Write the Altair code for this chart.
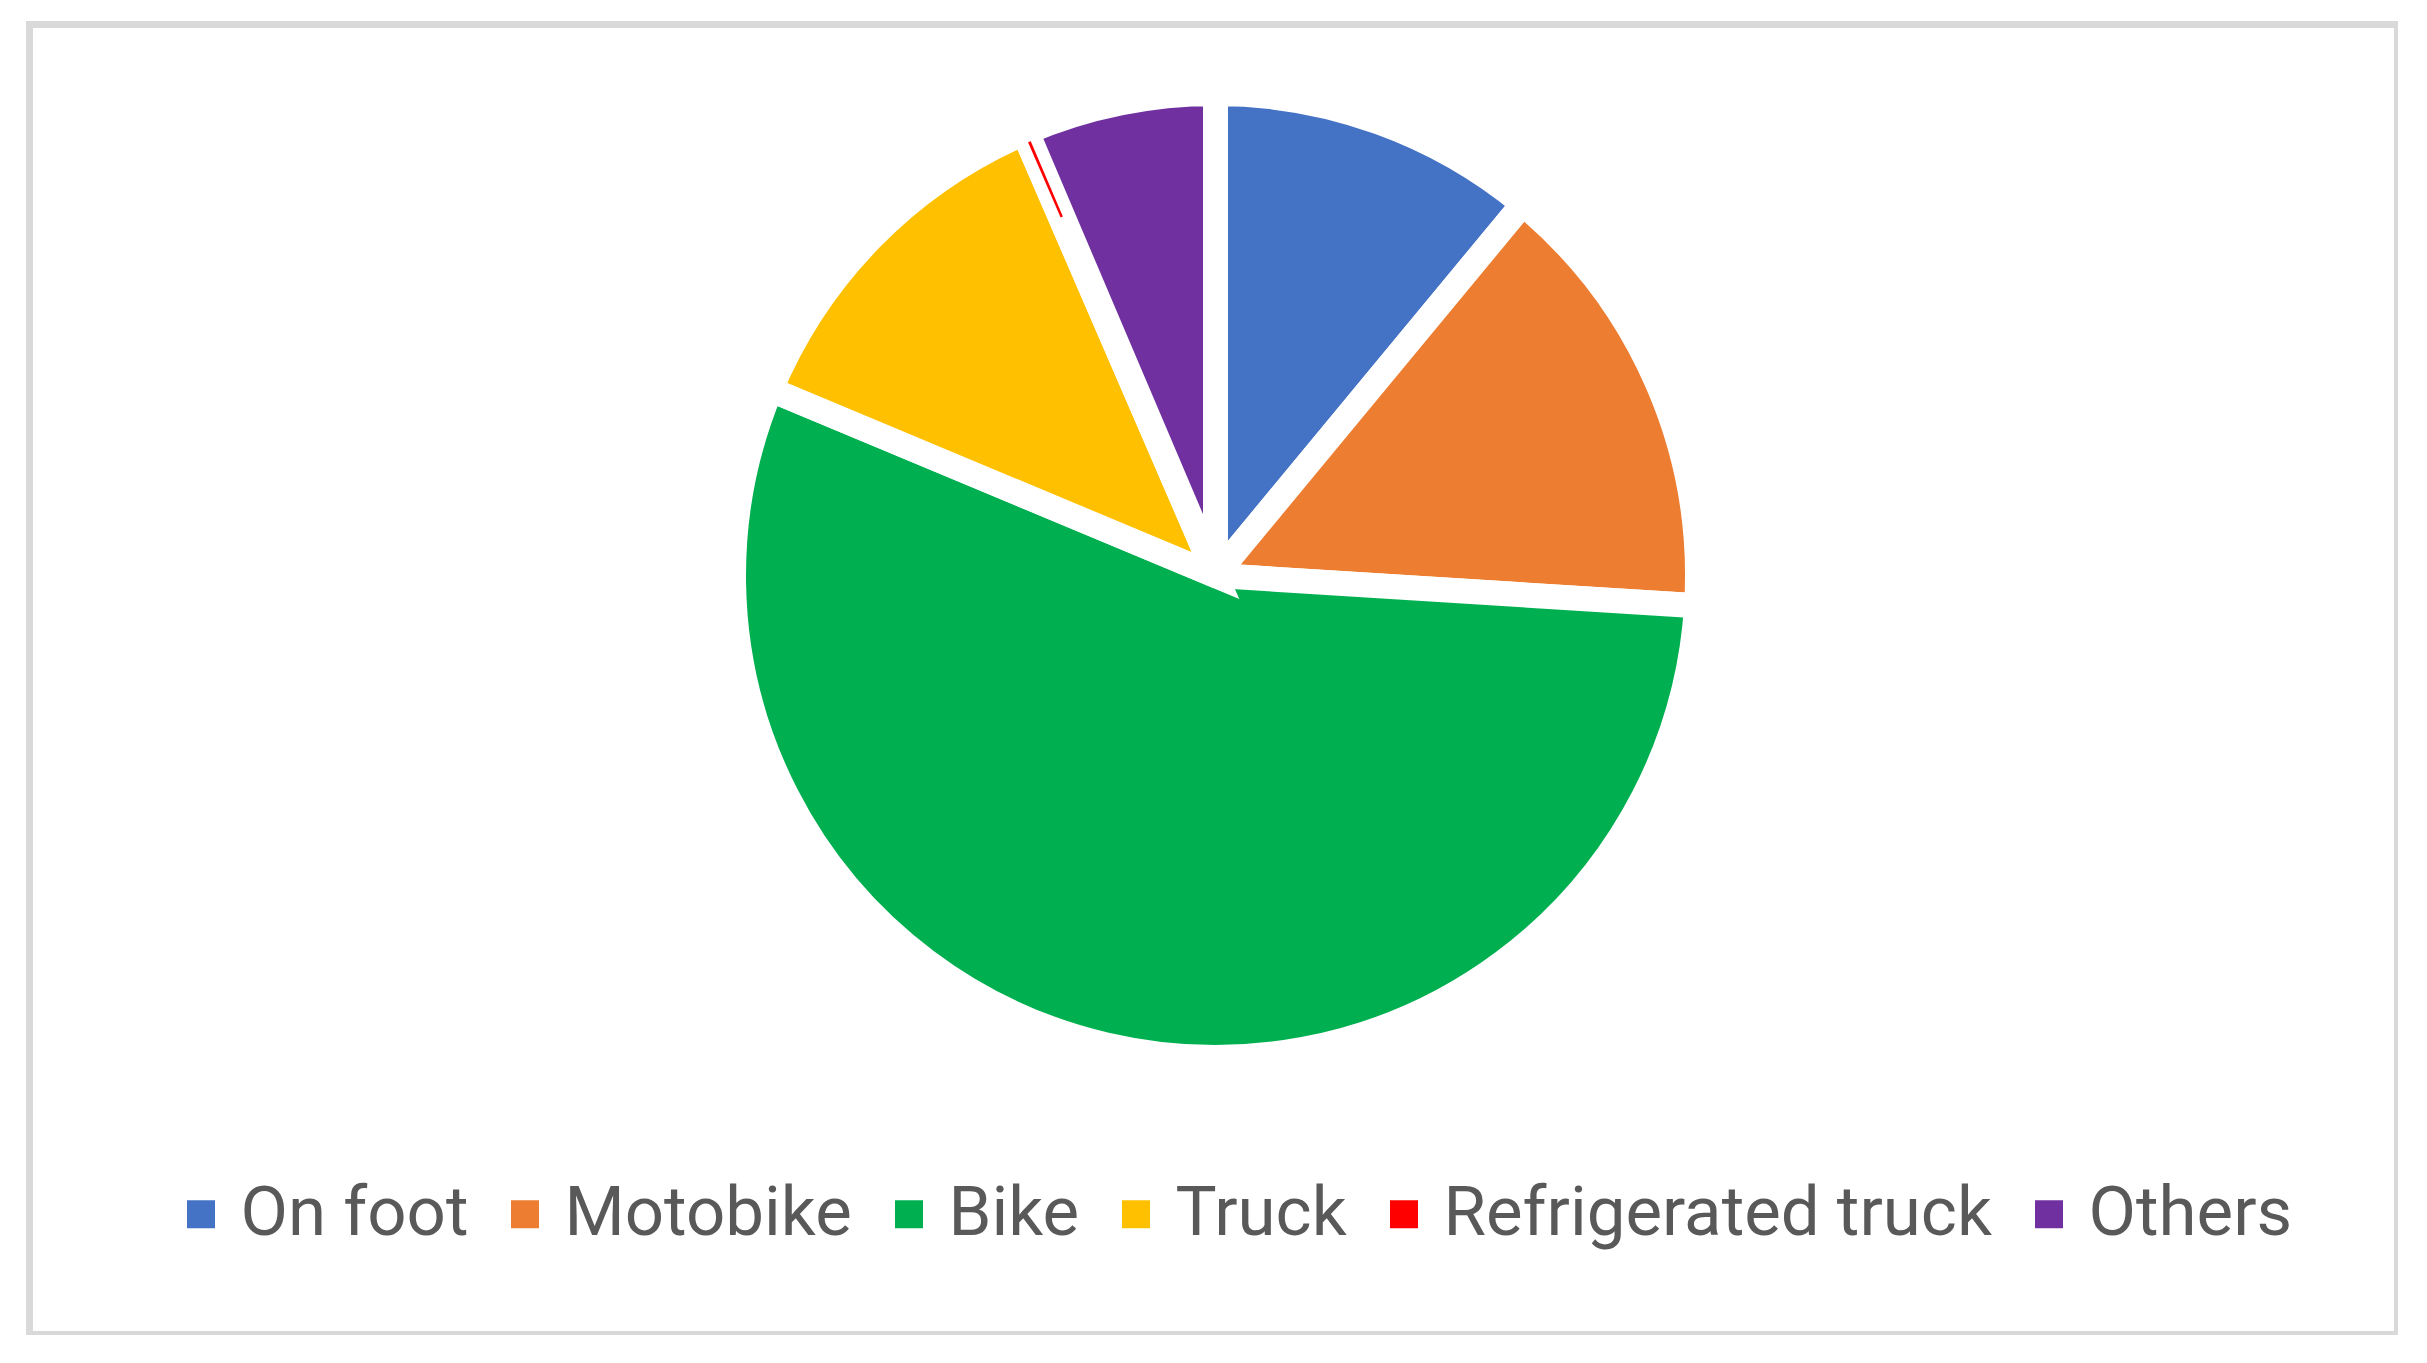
import altair as alt
import pandas as pd

categories = ["On foot", "Motobike", "Bike", "Truck", "Refrigerated truck", "Others"]
shares = [11.0, 15.0, 55.3, 12.2, 0.1, 6.4]
colors = ["#4472C4", "#ED7D31", "#00B050", "#FFC000", "#FF0000", "#7030A0"]

df = pd.DataFrame({"category": categories, "value": shares, "idx": list(range(len(categories)))})

W, H = 2368, 1310
CX, CY = 1186, 551
R = 482

color = alt.Color(
    "category:N",
    scale=alt.Scale(domain=categories, range=colors),
    sort=categories,
    legend=alt.Legend(
        title=None,
        orient="none",
        legendX=137,
        legendY=1155,
        direction="horizontal",
        columns=6,
        symbolType="square",
        symbolSize=784,
        symbolStrokeWidth=0,
        labelFontSize=69,
        labelFont="Roboto",
        labelColor="#595959",
        labelLimit=2000,
        labelOffset=5,
        columnPadding=22,
    ),
)

base = alt.Chart(df).encode(
    theta=alt.Theta("value:Q", stack=True),
    order=alt.Order("idx:Q", sort="ascending"),
    color=color,
    x=alt.value(CX),
    y=alt.value(CY),
)

pie = base.mark_arc(radius=R, stroke="white", strokeWidth=25, strokeJoin="miter")

sliver = base.mark_arc(radius=R - 10, radius2=390, strokeWidth=0).encode(
    opacity=alt.condition(alt.datum.category == "Refrigerated truck", alt.value(1), alt.value(0))
)

chart = (
    alt.layer(pie, sliver)
    .properties(
        width=W,
        height=H,
        autosize=alt.AutoSizeParams(type="none"),
        padding={"left": 21.5, "top": 16.5, "right": 0, "bottom": 0},
        background="white",
    )
    .configure_view(stroke="#D9D9D9", strokeWidth=7, fill="white")
)

chart.save("out.html", embed_options={"renderer": "svg", "actions": False})
